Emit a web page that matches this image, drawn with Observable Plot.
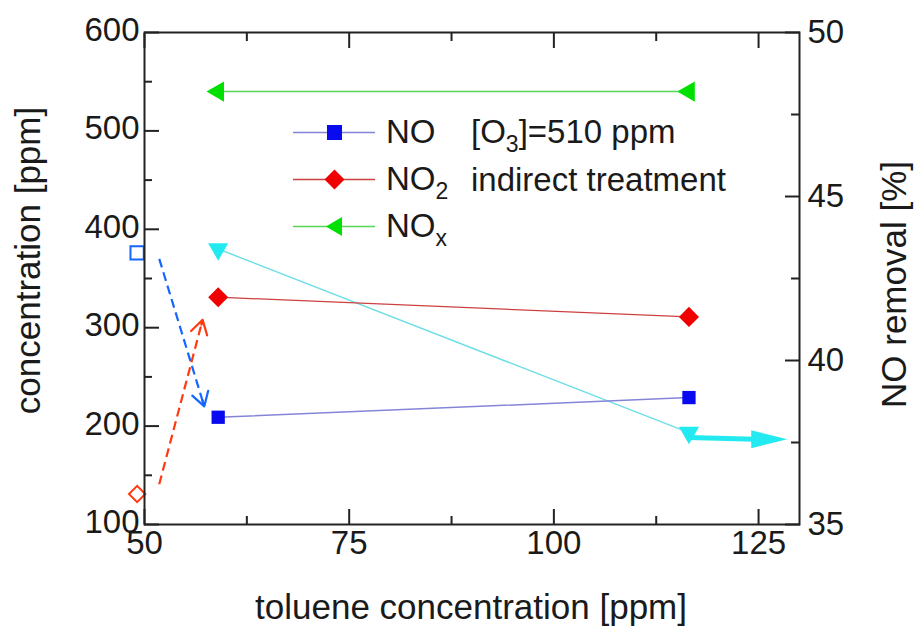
<!DOCTYPE html>
<html><head><meta charset="utf-8">
<script src="https://cdn.jsdelivr.net/npm/d3@7"></script>
<script src="https://cdn.jsdelivr.net/npm/@observablehq/plot@0.6"></script>
<style>
body{margin:0;background:#fff;font-family:"Liberation Sans",Arial,sans-serif;}
#wrap{position:relative;width:919px;height:630px;}
.lg{position:absolute;display:flex;align-items:center;height:40px;font-size:33px;color:#1a1a1a;white-space:nowrap;}
.lg svg{display:block;margin-right:11px;}
.lg sub{font-size:23px;vertical-align:-9px;line-height:0;}
</style></head><body><div id="wrap"></div>
<script>
// ---- data ----
const toluene = [59, 116.5];            // toluene concentration [ppm]
const NO = [209, 229];                  // concentration [ppm]
const NO2 = [331, 311];
const NOx = [540, 540];
const NOremoval = [43.4, 37.8];         // right axis [%]
const initialX = [49.1];                // initial (no toluene) values
const initialNO = [376];
const initialNO2 = [131];
const arrowNO = [{x1: 51.8, y1: 370, x2: 57.3, y2: 220}];
const arrowNO2 = [{x1: 51.8, y1: 141, x2: 57.1, y2: 308}];
const arrowRemoval = [{x1: 116.5, y1: 37.65, x2: 124.5, y2: 37.6, tip: 128.5}];
const xMajor = [50, 75, 100, 125];
const xMinor = [62.5, 87.5, 112.5];
const yMajor = [100, 200, 300, 400, 500, 600];
const yMinor = [150, 250, 350, 450, 550];
const rMajor = [35, 40, 45, 50];
const rMinor = [37.5, 42.5, 47.5];
const titles = {x: "toluene concentration [ppm]", yLeft: "concentration [ppm]", yRight: "NO removal [%]"};

// right-axis (%) mapped onto left (ppm) scale
const L = r => 100 + (r - 35) * 500 / 15;
const R = l => 35 + (l - 100) * 15 / 500;

const series = toluene.map((x, i) => ({x, NO: NO[i], NO2: NO2[i], NOx: NOx[i], rem: L(NOremoval[i])}));
const initial = initialX.map((x, i) => ({x, NO: initialNO[i], NO2: initialNO2[i]}));
const remArrow = arrowRemoval.map(d => ({x1: d.x1, y1: L(d.y1), x2: d.x2, y2: L(d.y2), tip: d.tip, ty: L(d.y2)}));

const headSymbol = {draw(ctx) { ctx.moveTo(0, 0); ctx.lineTo(-36, -9); ctx.lineTo(-36, 9); ctx.closePath(); }};

const C = {no: "#0a0af0", noLine: "#8585d8", no2: "#f00000", no2Line: "#cc4040", nox: "#00e000", noxLine: "#55d855",
  rem: "#22eaf0", remLine: "#70dfe6", blueDash: "#1466ff", redDash: "#ff3a10", axis: "#222"};

const tickStyle = {stroke: C.axis, strokeWidth: 2, label: null, tickFormat: () => ""};

const chart = Plot.plot({
  width: 919, height: 630,
  marginLeft: 144, marginRight: 120, marginTop: 32, marginBottom: 106,
  style: {fontFamily: "'Liberation Sans', Arial, sans-serif", fontSize: "33px", color: "#1a1a1a", background: "#fff"},
  x: {domain: [50, 130]},
  y: {domain: [100, 600]},
  marks: [
    Plot.line(series, {x: "x", y: "NOx", stroke: C.noxLine, strokeWidth: 1.5}),
    Plot.line(series, {x: "x", y: "rem", stroke: C.remLine, strokeWidth: 1.5}),
    Plot.line(series, {x: "x", y: "NO2", stroke: C.no2Line, strokeWidth: 1.3}),
    Plot.line(series, {x: "x", y: "NO", stroke: C.noLine, strokeWidth: 1.5}),
    Plot.link(remArrow, {x1: "x1", y1: "y1", x2: "x2", y2: "y2", stroke: C.rem, strokeWidth: 5}),
    Plot.dot(remArrow, {x: "tip", y: "ty", symbol: headSymbol, fill: C.rem}),
    Plot.dot(series, {x: "x", y: "NOx", symbol: "triangle", rotate: -90, r: 7.5, fill: C.nox}),
    Plot.dot(series, {x: "x", y: "rem", symbol: "triangle", rotate: 180, r: 7.5, fill: C.rem}),
    Plot.dot(series, {x: "x", y: "NO2", symbol: "square", rotate: 45, r: 8, fill: C.no2}),
    Plot.dot(series, {x: "x", y: "NO", symbol: "square", r: 7.5, fill: C.no}),
    Plot.dot(initial, {x: "x", y: "NO", symbol: "square", r: 7.5, stroke: C.blueDash, strokeWidth: 2, fill: "none"}),
    Plot.dot(initial, {x: "x", y: "NO2", symbol: "square", rotate: 45, r: 6.5, stroke: C.redDash, strokeWidth: 2, fill: "none"}),
    Plot.link(arrowNO, {x1: "x1", y1: "y1", x2: "x2", y2: "y2", stroke: C.blueDash, strokeWidth: 2.2, strokeDasharray: "9,5"}),
    Plot.arrow(arrowNO, {x1: "x1", y1: "y1", x2: "x2", y2: "y2", stroke: C.blueDash, strokeWidth: 2.2, headLength: 11, headAngle: 62, insetStart: 148}),
    Plot.link(arrowNO2, {x1: "x1", y1: "y1", x2: "x2", y2: "y2", stroke: C.redDash, strokeWidth: 2.2, strokeDasharray: "9,5"}),
    Plot.arrow(arrowNO2, {x1: "x1", y1: "y1", x2: "x2", y2: "y2", stroke: C.redDash, strokeWidth: 2.2, headLength: 11, headAngle: 62, insetStart: 165}),
    Plot.frame({stroke: C.axis, strokeWidth: 2}),
    // ticks (inward)
    Plot.axisX(xMajor, {anchor: "bottom", tickSize: -15, ...tickStyle}),
    Plot.axisX(xMinor, {anchor: "bottom", tickSize: -8, ...tickStyle}),
    Plot.axisX(xMajor, {anchor: "top", tickSize: -15, ...tickStyle}),
    Plot.axisX(xMinor, {anchor: "top", tickSize: -8, ...tickStyle}),
    Plot.axisY(yMajor, {anchor: "left", tickSize: -15, ...tickStyle}),
    Plot.axisY(yMinor, {anchor: "left", tickSize: -8, ...tickStyle}),
    Plot.axisY(rMajor.map(L), {anchor: "right", tickSize: -15, ...tickStyle}),
    Plot.axisY(rMinor.map(L), {anchor: "right", tickSize: -9, ...tickStyle}),
    // tick labels
    Plot.axisX(xMajor, {anchor: "bottom", tickSize: 0, tickPadding: 6, label: null, fontSize: 33}),
    Plot.axisY(yMajor, {anchor: "left", tickSize: 0, tickPadding: 5, label: null, fontSize: 33, dy: -2}),
    Plot.axisY(rMajor.map(L), {anchor: "right", tickSize: 0, tickPadding: 8, label: null, fontSize: 33, tickFormat: d => d3.format("d")(Math.round(R(d)))}),
    // axis titles
    Plot.text([titles.x], {text: d => d, frameAnchor: "bottom", textAnchor: "middle", lineAnchor: "middle", dy: 83, dx: -1, fontSize: 35}),
    Plot.text([titles.yLeft], {text: d => d, frameAnchor: "left", textAnchor: "middle", lineAnchor: "middle", rotate: -90, dx: -116, dy: -18, fontSize: 35}),
    Plot.text([titles.yRight], {text: d => d, frameAnchor: "right", textAnchor: "middle", lineAnchor: "middle", rotate: -90, dx: 95, dy: 6, fontSize: 35})
  ]
});
const wrap = document.getElementById("wrap");
wrap.appendChild(chart);

// legend (inside the plot area)
const legendItems = [
  {label: "NO", sub: "", line: C.noLine, fill: C.no, shape: "square", cy: 132},
  {label: "NO", sub: "2", line: C.no2Line, fill: C.no2, shape: "diamond", cy: 179},
  {label: "NO", sub: "x", line: C.noxLine, fill: C.nox, shape: "left", cy: 226}
];
const notes = [
  {html: "[O<sub>3</sub>]=510 ppm", cy: 132},
  {html: "indirect treatment", cy: 180}
];
function shapePath(s) {
  if (s === "square") return '<rect x="34" y="13" width="15" height="15"/>';
  if (s === "diamond") return '<path d="M41.5,10.5L51.5,20.5L41.5,30.5L31.5,20.5Z"/>';
  return '<path d="M33,20.5L49,11L49,30Z"/>';
}
legendItems.forEach(d => {
  const el = document.createElement("div");
  el.className = "lg";
  el.style.left = "293px"; el.style.top = (d.cy - 20) + "px";
  el.innerHTML = `<svg width="82" height="40"><line x1="0" x2="82" y1="20.5" y2="20.5" stroke="${d.line}" stroke-width="1.5"/><g fill="${d.fill}">${shapePath(d.shape)}</g></svg><span>${d.label}${d.sub ? `<sub>${d.sub}</sub>` : ""}</span>`;
  wrap.appendChild(el);
});
notes.forEach(d => {
  const el = document.createElement("div");
  el.className = "lg";
  el.style.left = "471px"; el.style.top = (d.cy - 20) + "px";
  el.innerHTML = `<span>${d.html}</span>`;
  wrap.appendChild(el);
});
</script></body></html>
